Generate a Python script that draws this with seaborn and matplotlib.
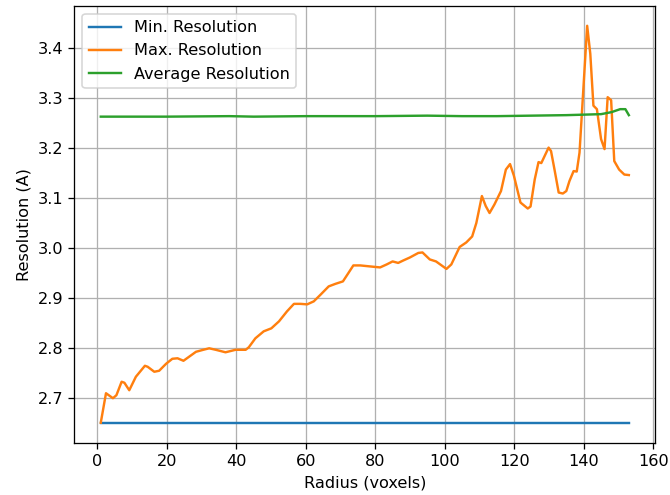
import matplotlib
matplotlib.use("Agg")
import matplotlib.pyplot as plt
import seaborn as sns

# Resolution vs radius
min_radius = [1, 153]
min_res = [2.65, 2.65]

max_radius = [1, 2.5, 4.5, 5.5, 7.0, 7.8, 9.2, 11.1, 13.7, 14.5, 16.4, 17.8, 19.8,
              21.6, 23.1, 24.8, 26.4, 28.4, 30.5, 32.2, 34.1, 36.9, 39.8, 42.7,
              43.6, 45.5, 47.9, 50.1, 52.3, 54.6, 56.6, 58.5, 60.4, 62.3, 64.2,
              66.6, 68.5, 70.7, 72.3, 73.7, 75.7, 78.5, 81.4, 83.3, 85.0, 86.6,
              88.1, 90.0, 92.4, 93.6, 95.7, 97.5, 99.1, 100.5, 101.9, 104.3,
              106.2, 107.9, 109.1, 110.7, 111.8, 112.9, 114.3, 116.2, 117.6,
              118.8, 119.9, 121.8, 123.9, 124.7, 125.9, 127.0, 127.8, 129.9,
              130.6, 131.6, 132.8, 134.0, 135.0, 135.9, 137.1, 138.0, 138.8,
              141.0, 141.9, 142.8, 143.8, 145.0, 146.0, 146.9, 147.9, 148.8,
              150.2, 151.7, 153]
max_res = [2.650, 2.709, 2.699, 2.705, 2.732, 2.730, 2.715, 2.742, 2.764, 2.762,
           2.752, 2.754, 2.768, 2.778, 2.779, 2.774, 2.782, 2.792, 2.796, 2.799,
           2.796, 2.791, 2.796, 2.796, 2.801, 2.819, 2.833, 2.839, 2.853, 2.873,
           2.888, 2.888, 2.887, 2.893, 2.906, 2.923, 2.928, 2.933, 2.950, 2.965,
           2.965, 2.963, 2.961, 2.967, 2.973, 2.970, 2.975, 2.981, 2.990, 2.991,
           2.977, 2.973, 2.965, 2.958, 2.967, 3.002, 3.011, 3.023, 3.050, 3.104,
           3.084, 3.070, 3.087, 3.114, 3.157, 3.168, 3.145, 3.091, 3.079, 3.083,
           3.137, 3.172, 3.170, 3.201, 3.194, 3.157, 3.111, 3.109, 3.114, 3.134,
           3.154, 3.153, 3.191, 3.445, 3.389, 3.285, 3.278, 3.218, 3.198, 3.302,
           3.296, 3.174, 3.157, 3.147, 3.146]

avg_radius = [1, 20, 38, 45, 60, 80, 95, 105, 115, 125, 135, 140, 145, 148,
              150.5, 152, 153]
avg_res = [3.263, 3.263, 3.264, 3.263, 3.264, 3.264, 3.265, 3.264, 3.264, 3.265,
           3.266, 3.267, 3.268, 3.272, 3.278, 3.278, 3.266]

# reference looks rendered at a slightly higher dpi, so text and lines are a bit bigger
dpi = 116
fig = plt.figure(figsize=(670 / dpi, 495 / dpi), dpi=dpi)
ax = fig.add_axes([0.111, 0.106, 0.867, 0.882])

sns.lineplot(x=min_radius, y=min_res, ax=ax, color="tab:blue", label="Min. Resolution")
sns.lineplot(x=max_radius, y=max_res, ax=ax, color="tab:orange", label="Max. Resolution")
sns.lineplot(x=avg_radius, y=avg_res, ax=ax, color="tab:green", label="Average Resolution")

ax.set_xlabel("Radius (voxels)")
ax.set_ylabel("Resolution (A)")
ax.set_xticks([0, 20, 40, 60, 80, 100, 120, 140, 160])
ax.grid(True)
ax.legend(loc="upper left")

fig.savefig("out.png", dpi=dpi)
